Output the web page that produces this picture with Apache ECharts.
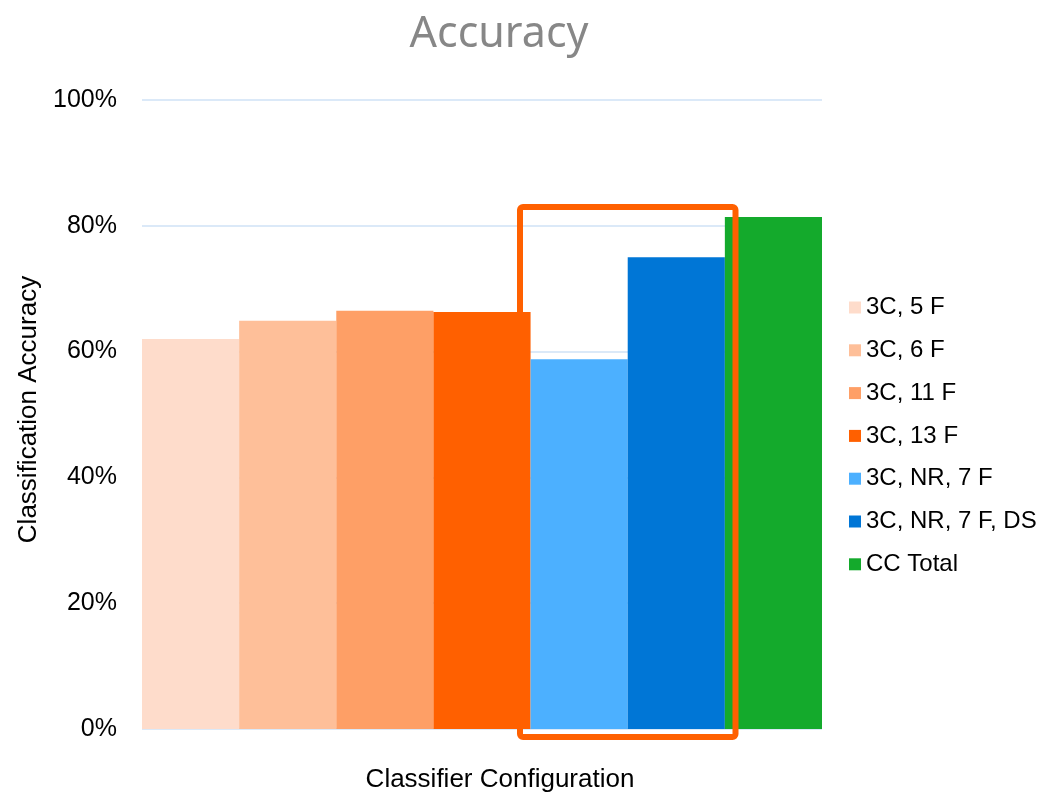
<!DOCTYPE html>
<html>
<head>
<meta charset="utf-8">
<script src="https://cdn.jsdelivr.net/npm/echarts@6/dist/echarts.min.js"></script>
<style>
  html, body { margin: 0; padding: 0; background: #ffffff; }
  #chart { width: 1042px; height: 793px; }
</style>
</head>
<body>
<div id="chart"></div>
<script>
// Classifier configurations and their accuracy (%)
const configs = ['3C, 5 F', '3C, 6 F', '3C, 11 F', '3C, 13 F', '3C, NR, 7 F', '3C, NR, 7 F, DS', 'CC Total'];
const accuracy = [62.0, 64.9, 66.5, 66.3, 58.8, 75.0, 81.4];
const colors = ['#fedccb', '#febf99', '#fe9f66', '#ff6000', '#4cb0ff', '#0076d6', '#14aa2c'];
const yTicks = [0, 20, 40, 60, 80, 100];

const chart = echarts.init(document.getElementById('chart'), null, { renderer: 'canvas' });

const series = configs.map((name, i) => ({
  name: name,
  type: 'bar',
  data: [accuracy[i]],
  barGap: '0%',
  barCategoryGap: '0%',
  itemStyle: { color: colors[i] },
  emphasis: { disabled: true }
}));

chart.setOption({
  animation: false,
  backgroundColor: '#ffffff',
  title: {
    text: 'Accuracy',
    left: 494,
    top: 8,
    textAlign: 'center',
    textStyle: { fontFamily: 'Noto Sans', fontSize: 43, fontWeight: 'normal', color: '#878787' }
  },
  legend: {
    orient: 'vertical',
    left: 849,
    top: 295.5,
    padding: 0,
    itemWidth: 12,
    itemHeight: 12,
    itemGap: 18.8,
    icon: 'rect',
    data: configs,
    textStyle: { fontFamily: 'Liberation Sans', fontSize: 24, color: '#000000', lineHeight: 24 }
  },
  grid: { left: 142, right: 220, top: 100, bottom: 64, containLabel: false, outerBoundsMode: 'none' },
  xAxis: {
    type: 'category',
    data: ['Accuracy'],
    name: 'Classifier Configuration',
    nameLocation: 'middle',
    nameGap: 38,
    nameTextStyle: { fontFamily: 'Liberation Sans', fontSize: 26, color: '#000000', padding: [0, 0, 0, 36] },
    axisLine: { show: false },
    axisTick: { show: false },
    axisLabel: { show: false }
  },
  yAxis: {
    type: 'value',
    min: yTicks[0],
    max: yTicks[yTicks.length - 1],
    interval: 20,
    name: 'Classification Accuracy',
    nameLocation: 'middle',
    nameRotate: 90,
    nameGap: 100,
    nameTextStyle: { fontFamily: 'Liberation Sans', fontSize: 26, color: '#000000', padding: [0, 0, 0, 10] },
    axisLine: { show: false },
    axisTick: { show: false },
    axisLabel: {
      formatter: v => v + '%',
      margin: 25,
      fontFamily: 'Liberation Sans',
      fontSize: 25,
      color: '#000000'
    },
    splitLine: { lineStyle: { color: '#dbe9f8', width: 2 } }
  },
  series: series,
  graphic: [{
    type: 'rect',
    z: 100,
    shape: { x: 520, y: 207, width: 215.5, height: 530, r: 3 },
    style: { fill: 'none', stroke: '#ff6000', lineWidth: 6 }
  }]
});
</script>
</body>
</html>
